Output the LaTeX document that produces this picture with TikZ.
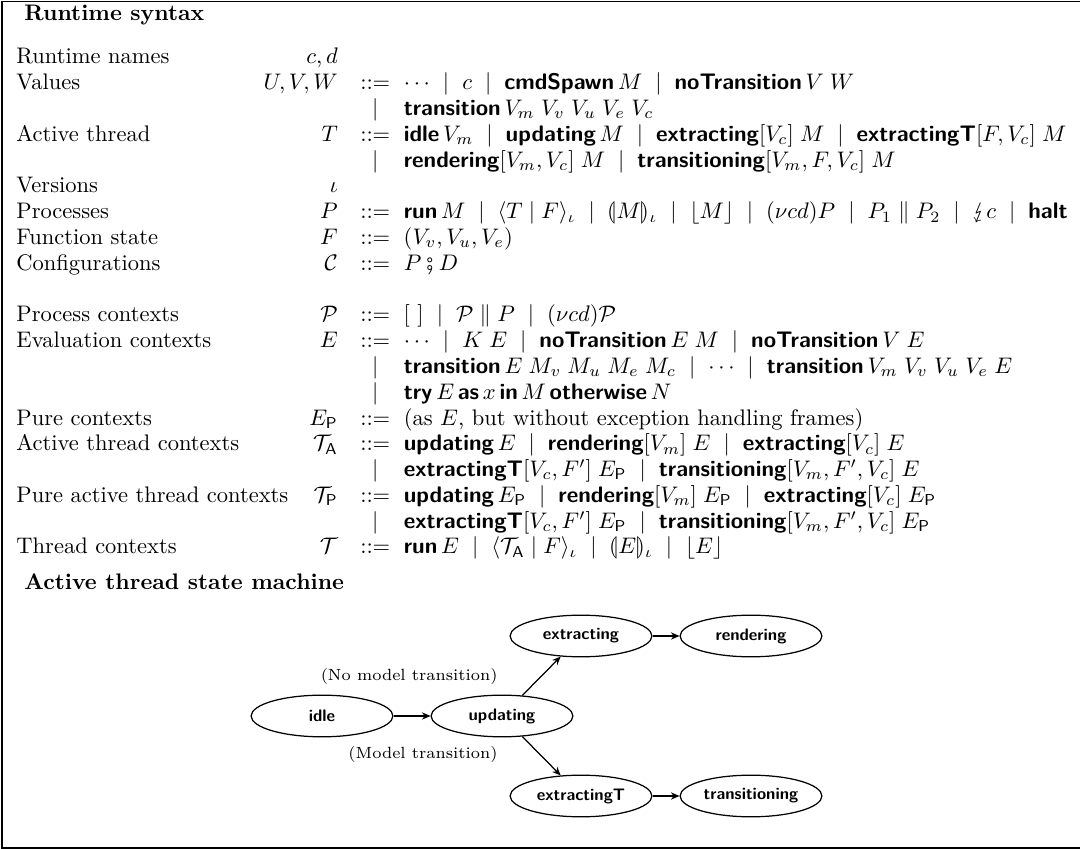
\documentclass[tikz,border=0pt]{standalone}
\usepackage{amsmath,amssymb,stmaryrd,array}
\usetikzlibrary{shapes.geometric,arrows.meta}
\newcommand\kw[1]{\textsf{\textbf{#1}}}
\newcommand\alt{\mathrel{\hspace{3pt}|\hspace{3pt}}}
\newlength\lwid
\newcommand\lab[2]{\makebox[\lwid][l]{#1\hfill$#2$}}
\begin{document}
\settowidth{\lwid}{Pure active thread contexts}\addtolength{\lwid}{22pt}
\renewcommand\arraystretch{0.955}
\begin{tikzpicture}[x=0.4444pt,y=-0.4444pt,
  state/.style={ellipse, draw, line width=0.55pt, minimum width=63pt, minimum height=18.5pt, inner sep=1pt, font=\fontsize{7.4}{9}\selectfont\sffamily\bfseries},
  lbl/.style={inner sep=0, font=\fontsize{7.2}{9}\selectfont},
  arr/.style={-{Stealth[length=3.8pt,width=3.2pt]}, line width=0.55pt},
  frame/.style={draw, line width=0.7pt}]
\useasboundingbox (0,0) rectangle (1080,849);
\draw[frame] (2,1.5) -- (1200,1.5) (2,1.5) -- (2,848) -- (1200,848);
\node[anchor=base west, inner sep=0, font=\bfseries] (t1) at (24,21) {Runtime syntax};
\node[anchor=base west, inner sep=0] (g) at (16,64) {\begin{tabular}[t]{@{}l@{\hspace{10pt}}>{$}c<{$}@{\hspace{6pt}}>{$}l<{$}@{}}
\lab{Runtime names}{c, d} & & \\
\lab{Values}{U, V, W} & ::= & \cdots \alt c \alt \kw{cmdSpawn}\, M \alt \kw{noTransition}\, V\; W\\
 & | & \kw{transition}\, V_m\; V_v\; V_u\; V_e\; V_c\\
\lab{Active thread}{T} & ::= & \kw{idle}\, V_m \alt \kw{updating}\, M \alt \kw{extracting}[V_c]\; M \alt \kw{extractingT}[F, V_c]\; M\\
 & | & \kw{rendering}[V_m, V_c]\; M \alt \kw{transitioning}[V_m, F, V_c]\; M\\
\lab{Versions}{\iota} & & \\
\lab{Processes}{P} & ::= & \kw{run}\, M \alt \langle T \mid F\rangle_\iota \alt \llparenthesis M \rrparenthesis_\iota \alt \lfloor M\rfloor \alt (\nu c d)P \alt P_1 \parallel P_2 \alt \lightning c \alt \kw{halt}\\
\lab{Function state}{F} & ::= & (V_v, V_u, V_e)\\
\lab{Configurations}{\mathcal{C}} & ::= & P \fatsemi D\\
 & & \\
\lab{Process contexts}{\mathcal{P}} & ::= & [~] \alt \mathcal{P} \parallel P \alt (\nu c d)\mathcal{P}\\
\lab{Evaluation contexts}{E} & ::= & \cdots \alt K\; E \alt \kw{noTransition}\, E\; M \alt \kw{noTransition}\, V\; E\\
 & | & \kw{transition}\, E\; M_v\; M_u\; M_e\; M_c \alt \cdots \alt \kw{transition}\, V_m\; V_v\; V_u\; V_e\; E\\
 & | & \kw{try}\, E \,\kw{as}\, x \,\kw{in}\, M \,\kw{otherwise}\, N\\
\lab{Pure contexts}{E_{\mathsf{P}}} & ::= & \text{(as $E$, but without exception handling frames)}\\
\lab{Active thread contexts}{\mathcal{T}_{\mathsf{A}}} & ::= & \kw{updating}\, E \alt \kw{rendering}[V_m]\; E \alt \kw{extracting}[V_c]\; E\\
 & | & \kw{extractingT}[V_c, F']\; E_{\mathsf{P}} \alt \kw{transitioning}[V_m, F', V_c]\; E\\
\lab{Pure active thread contexts}{\mathcal{T}_{\mathsf{P}}} & ::= & \kw{updating}\, E_{\mathsf{P}} \alt \kw{rendering}[V_m]\; E_{\mathsf{P}} \alt \kw{extracting}[V_c]\; E_{\mathsf{P}}\\
 & | & \kw{extractingT}[V_c, F']\; E_{\mathsf{P}} \alt \kw{transitioning}[V_m, F', V_c]\; E_{\mathsf{P}}\\
\lab{Thread contexts}{\mathcal{T}} & ::= & \kw{run}\, E \alt \langle \mathcal{T}_{\mathsf{A}} \mid F\rangle_\iota \alt \llparenthesis E \rrparenthesis_\iota \alt \lfloor E\rfloor
\end{tabular}};
\node[anchor=base west, inner sep=0, font=\bfseries] (t2) at (24,590) {Active thread state machine};
\node[state] (idle) at (322,716) {idle};
\node[state] (upd) at (502,716) {updating};
\node[state] (ext) at (581,636) {extracting};
\node[state] (ren) at (751,636) {rendering};
\node[state] (extT) at (581,796) {extractingT};
\node[state] (tra) at (751,796) {transitioning};
\draw[arr] (idle) -- (upd);
\draw[arr] (ext) -- (ren);
\draw[arr] (extT) -- (tra);
\draw[arr] (upd) -- (ext);
\draw[arr] (upd) -- (extT);
\node[lbl, anchor=east] (l1) at (498,676) {(No model transition)};
\node[lbl, anchor=east] (l2) at (498,754) {(Model transition)};
\end{tikzpicture}
\end{document}
